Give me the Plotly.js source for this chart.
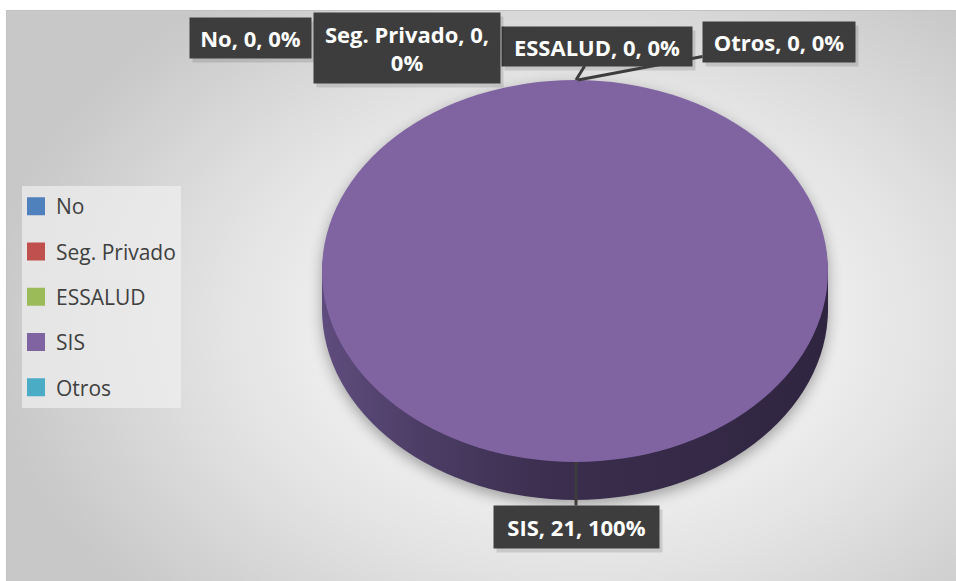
<!DOCTYPE html>
<html>
<head>
<meta charset="utf-8">
<script src="https://cdn.plot.ly/plotly-3.0.1.min.js"></script>
<style>
html,body{margin:0;padding:0;background:#fff;}
#wrap{position:relative;width:956px;height:581px;overflow:hidden;background:#fff;}
#bg{position:absolute;left:6px;top:10px;width:950px;height:571px;box-sizing:border-box;
  border-left:1px solid #c2c2c2;border-top:1px solid #c2c2c2;
  background:radial-gradient(ellipse 62% 72% at 60% 55%, #ffffff 0%, #f6f6f6 28%, #e2e2e2 62%, #c8c8c8 100%);}
#chart{position:absolute;left:0;top:0;width:956px;height:581px;}
</style>
</head>
<body>
<div id="wrap"><div id="bg"></div><div id="chart"></div></div>
<script>
// ---- data ----
const categories = ['No', 'Seg. Privado', 'ESSALUD', 'SIS', 'Otros'];
const counts = [0, 0, 0, 21, 0];
const sliceColors = ['#4f81bd', '#c0504d', '#9bbb59', '#8064a2', '#4bacc6'];
const sideColors = ['#2b4468', '#6b2b2a', '#566932', '#3e3052', '#2a5f6e'];

// ---- layout helpers (positions / styles only) ----
const W = 956, H = 581;
const tilt = 0.755;              // vertical squash of the pie face
const depthOffsets = [38, 31, 24, 17, 10, 4]; // side band copies (px)
const callouts = [
  {cx: 250, cy: 38, w: 121, h: 40, tip: null, wrap: false},
  {cx: 407, cy: 48, w: 186, h: 70, tip: null, wrap: true},
  {cx: 597, cy: 46, w: 190, h: 39, tip: [576, 80], wrap: false},
  {cx: 576, cy: 527, w: 165, h: 42, tip: [576, 462], wrap: false},
  {cx: 779, cy: 42, w: 152, h: 40, tip: [578, 80], wrap: false}
];
const drawOrder = [0, 2, 1, 4, 3];

const total = counts.reduce((a, b) => a + b, 0);
function calloutText(i) {
  const pct = Math.round(100 * counts[i] / total) + '%';
  return callouts[i].wrap
    ? categories[i] + ', ' + counts[i] + ',<br>' + pct
    : categories[i] + ', ' + counts[i] + ', ' + pct;
}

const R = 253, CX = 575, CY = 271;
const pieDomain = {
  x: [(CX - R) / W, (CX + R) / W],
  y: [1 - (CY + R) / H, 1 - (CY - R) / H]
};

const data = [];
depthOffsets.forEach(() => {
  data.push({
    type: 'pie', labels: categories, values: counts, sort: false,
    marker: {colors: sideColors, line: {width: 0}},
    textinfo: 'none', showlegend: false, hoverinfo: 'skip',
    domain: pieDomain
  });
});
data.push({
  type: 'pie', labels: categories, values: counts, sort: false,
  marker: {colors: sliceColors, line: {width: 0}},
  textinfo: 'none', showlegend: false, hoverinfo: 'skip',
  domain: pieDomain
});
// legend entries
categories.forEach((c, i) => {
  data.push({
    type: 'scatter', mode: 'markers', x: [null], y: [null],
    name: c, legendgroup: c, showlegend: true,
    marker: {symbol: 'square', size: 16, color: sliceColors[i], line: {width: 2, color: sliceColors[i]}}
  });
});

const annotations = [];
drawOrder.forEach(i => {
  const c = callouts[i];
  // soft shadow
  annotations.push({
    xref: 'paper', yref: 'paper', x: (c.cx + 3) / W, y: 1 - (c.cy + 4) / H,
    xanchor: 'center', yanchor: 'middle', showarrow: false,
    text: ' ', width: c.w, height: c.h, borderpad: 0,
    bgcolor: 'rgba(0,0,0,0.12)'
  });
  const a = {
    xref: 'paper', yref: 'paper',
    text: calloutText(i), width: c.w, height: c.h, borderpad: 0,
    bgcolor: '#3d3d3d', align: 'center', valign: 'middle',
    font: {family: 'Open Sans', size: 22, color: '#ffffff', weight: 700}
  };
  if (c.tip) {
    a.x = c.tip[0] / W; a.y = 1 - c.tip[1] / H;
    a.showarrow = true; a.arrowhead = 0; a.arrowwidth = 3; a.arrowcolor = '#3d3d3d';
    a.ax = c.cx - c.tip[0]; a.ay = c.cy - c.tip[1];
  } else {
    a.x = c.cx / W; a.y = 1 - c.cy / H; a.showarrow = false;
    a.xanchor = 'center'; a.yanchor = 'middle';
  }
  annotations.push(a);
});

const layout = {
  width: W, height: H,
  margin: {l: 0, r: 0, t: 0, b: 0},
  paper_bgcolor: 'rgba(0,0,0,0)', plot_bgcolor: 'rgba(0,0,0,0)',
  xaxis: {visible: false}, yaxis: {visible: false},
  showlegend: true,
  legend: {
    x: 22 / W, y: 1 - 186 / H, xanchor: 'left', yanchor: 'top',
    bgcolor: 'rgba(240,240,240,0.7)', borderwidth: 0,
    font: {family: 'Open Sans', size: 21, color: '#404040'},
    traceorder: 'grouped', tracegroupgap: 15, itemwidth: 30, indentation: -6
  },
  annotations: annotations,
  font: {family: 'Open Sans'}
};

Plotly.newPlot('chart', data, layout, {staticPlot: true}).then(gd => {
  const svg = gd.querySelector('svg.main-svg');
  const NS = 'http://www.w3.org/2000/svg';
  let defs = svg.querySelector('defs');
  if (!defs) { defs = document.createElementNS(NS, 'defs'); svg.insertBefore(defs, svg.firstChild); }
  // side gradient (style only)
  const lg = document.createElementNS(NS, 'linearGradient');
  lg.setAttribute('id', 'pieSideGrad');
  lg.setAttribute('x1', '0'); lg.setAttribute('x2', '1'); lg.setAttribute('y1', '0'); lg.setAttribute('y2', '0');
  [['0', '#5f4c7e'], ['0.2', '#4c3d65'], ['0.45', '#3b2e4e'], ['1', '#2f2540']].forEach(s => {
    const st = document.createElementNS(NS, 'stop');
    st.setAttribute('offset', s[0]); st.setAttribute('stop-color', s[1]);
    lg.appendChild(st);
  });
  defs.appendChild(lg);

  const groups = gd.querySelectorAll('.pielayer .trace');
  groups.forEach((g, i) => {
    const cd0 = gd.calcdata[i][0];
    const cy = cd0.cy;
    const isSide = i < depthOffsets.length;
    const off = isSide ? depthOffsets[i] : 0;
    g.setAttribute('transform', 'translate(0,' + (cy * (1 - tilt) + off) + ') scale(1,' + tilt + ')');
    if (isSide) {
      g.querySelectorAll('path.surface').forEach(p => { p.style.fill = 'url(#pieSideGrad)'; });
    }
  });
  const pl = gd.querySelector('.pielayer');
  if (pl) pl.style.filter = 'drop-shadow(0px 5px 7px rgba(0,0,0,0.33))';
});
</script>
</body>
</html>
